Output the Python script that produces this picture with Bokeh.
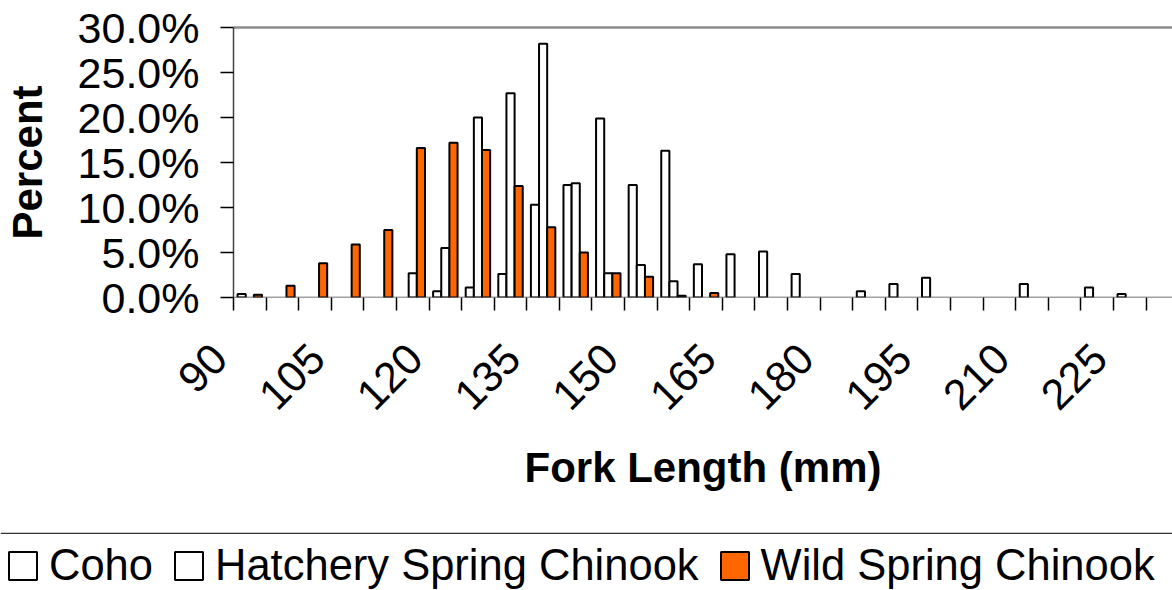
import math
import numpy as np
from bokeh.plotting import figure
from bokeh.models import (ColumnDataSource, FixedTicker, LinearAxis, Range1d, Legend,
                          LegendItem, Span, PrintfTickFormatter)
from bokeh.transform import dodge
from bokeh.layouts import column
from bokeh.embed import file_html
from bokeh.resources import INLINE

# ---- data (percent of fish per 5 mm fork-length bin) ----
fork_length = [90, 95, 100, 105, 110, 115, 120, 125, 130, 135, 140, 145, 150, 155, 160,
               165, 170, 175, 180, 185, 190, 195, 200, 205, 210, 215, 220, 225, 230]
coho = [0.4, None, None, None, None, None, 0.7, 1.1, 2.6, 10.3, 12.5, 19.9, 12.5, 16.3, 3.7,
        4.8, 5.1, 2.6, None, 0.7, 1.5, 2.2, None, None, 1.5, None, 1.1, 0.4, None]
hatchery = [None, None, None, None, None, 2.7, 5.5, 20.0, 22.7, 28.2, 12.7, 2.7, 3.6, 1.8, None,
            None, None, None, None, None, None, None, None, None, None, None, None, None, None]
wild = [0.3, 1.3, 3.8, 5.9, 7.5, 16.6, 17.2, 16.4, 12.4, 7.8, 5.0, 2.7, 2.3, 0.2, 0.5,
        None, None, None, None, None, None, None, None, None, None, None, None, None, None]
series_names = ["Coho", "Hatchery Spring Chinook", "Wild Spring Chinook"]
x_tick_labels = ["90", "105", "120", "135", "150", "165", "180", "195", "210", "225"]
y_ticks = [0, 5, 10, 15, 20, 25, 30]


def arr(v):
    return np.array([np.nan if a is None else a for a in v], dtype=float)


source = ColumnDataSource(dict(fl=fork_length, coho=arr(coho), hatchery=arr(hatchery), wild=arr(wild)))

FONT = "Liberation Sans"
BIN = 5.0
BAR_W = BIN / 4.0
ORANGE = "#FF6600"
X_START = fork_length[0] - BIN / 2
X_SPAN = 144.06

p = figure(width=1172, height=532,
           x_range=Range1d(X_START, X_START + X_SPAN),
           y_range=Range1d(0, 30),
           toolbar_location=None, output_backend="svg",
           min_border_left=233, min_border_right=0, min_border_top=27, min_border_bottom=235,
           outline_line_color=None, background_fill_color="white", border_fill_color="white")
p.frame_align = False
p.grid.visible = False

styles = [("coho", -BAR_W, "white"), ("hatchery", 0.0, "white"), ("wild", BAR_W, ORANGE)]
for col, off, fill in styles:
    p.vbar(x=dodge("fl", off, range=p.x_range), top=col, width=BAR_W, bottom=0,
           source=source, fill_color=fill, line_color="black", line_width=2)

# x axis: tick marks on bin boundaries, labels every 15 mm (Excel style: labels sit left of bin)
boundaries = [f - BIN / 2 for f in fork_length] + [fork_length[-1] + BIN / 2]
label_shift = -2.45
label_pos = [float(t) + label_shift for t in x_tick_labels]
xax = p.xaxis[0]
xax.ticker = FixedTicker(ticks=label_pos, minor_ticks=boundaries)
# trailing non-collapsing spaces nudge the rotated labels a little further left/down
xax.major_label_overrides = {pos: lab + "\u00a0\u2009" for pos, lab in zip(label_pos, x_tick_labels)}
xax.axis_line_color = None
xax.major_tick_in = 0
xax.major_tick_out = 0
xax.minor_tick_in = 0
xax.minor_tick_out = 13
xax.minor_tick_line_color = "black"
xax.minor_tick_line_width = 1.5
xax.major_label_orientation = math.pi / 4
xax.major_label_standoff = 26
xax.major_label_text_font = FONT
xax.major_label_text_font_size = "43px"
xax.major_label_text_color = "black"
xax.axis_label = "Fork Length (mm)"
xax.axis_label_text_font = FONT
xax.axis_label_text_font_size = "42px"
xax.axis_label_text_font_style = "bold"
xax.axis_label_text_color = "black"
xax.axis_label_standoff = 5
# x axis base line across the plot area
p.add_layout(Span(location=0, dimension="width", line_color="#444444", line_width=1.5))

yax = p.yaxis[0]
yax.ticker = FixedTicker(ticks=y_ticks, minor_ticks=[])
yax.formatter = PrintfTickFormatter(format="%.1f%%")
yax.major_tick_in = 0
yax.major_tick_out = 13
yax.major_tick_line_color = "black"
yax.major_tick_line_width = 1.5
yax.axis_line_color = "#444444"
yax.axis_line_width = 1.5
yax.major_label_standoff = 21
yax.major_label_text_font = FONT
yax.major_label_text_font_size = "43px"
yax.major_label_text_color = "black"
yax.axis_label = "Percent"
yax.axis_label_text_font = FONT
yax.axis_label_text_font_size = "42px"
yax.axis_label_text_font_style = "bold"
yax.axis_label_text_color = "black"
yax.axis_label_standoff = 24

# gray top border of the plot area
top_axis = LinearAxis(ticker=FixedTicker(ticks=[]), axis_line_color="#8c8c8c", axis_line_width=2.5,
                      major_tick_line_color=None, minor_tick_line_color=None,
                      major_label_text_font_size="0px", major_tick_in=0, major_tick_out=0,
                      minor_tick_in=0, minor_tick_out=0, major_label_standoff=0)
p.add_layout(top_axis, "above")

# ---- legend strip (its own full-width frame, separated by a rule) ----
lg = figure(width=1172, height=58, x_range=Range1d(0, 1), y_range=Range1d(0, 1),
            toolbar_location=None, output_backend="svg",
            x_axis_location=None, y_axis_location=None,
            min_border=0, outline_line_color=None, background_fill_color="white",
            border_fill_color="white")
lg.frame_align = False
lg.grid.visible = False
leg_items = []
for (col, off, fill), name in zip(styles, series_names):
    # same series, hidden here; only the legend swatch is shown
    r = lg.vbar(x="fl", top=col, width=BAR_W, source=source, fill_color=fill,
                line_color="black", line_width=2, visible=False)
    leg_items.append(LegendItem(label=name, renderers=[r]))
lg.add_layout(Span(location=0.985, dimension="width", line_color="#333333", line_width=1.5))
legend = Legend(items=leg_items, orientation="horizontal", location=(5, 0),
                glyph_width=35, glyph_height=35, label_standoff=9, spacing=18,
                padding=0, margin=0, border_line_color=None, background_fill_alpha=0,
                inactive_fill_alpha=0,
                label_text_font=FONT, label_text_font_size="43.5px", label_text_color="black")
lg.add_layout(legend, "center")

layout = column(p, lg, spacing=0)
open("out.html", "w").write(file_html(layout, INLINE))
